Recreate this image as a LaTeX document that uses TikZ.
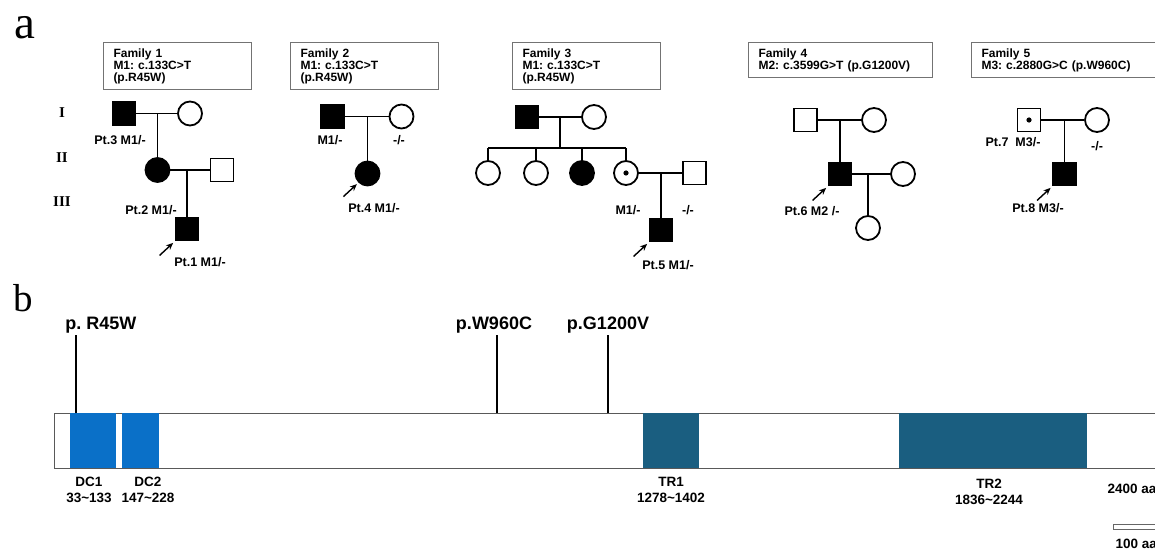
\documentclass[tikz,border=0pt]{standalone}
\usepackage{fontspec}
\setmainfont{Liberation Sans}
\newfontfamily\romfont{Liberation Serif}
\usetikzlibrary{calc,arrows.meta}
\definecolor{dcblue}{RGB}{10,112,200}
\definecolor{trteal}{RGB}{26,94,128}
\frenchspacing
\tikzset{
  ind/.style={draw,line width=1.8pt,fill=white,inner sep=0pt,minimum size=23pt},
  male/.style={ind,rectangle},
  female/.style={ind,circle,minimum size=24pt},
  aff/.style={fill=black},
  tie/.style={line width=1.7pt},
  proband/.style={line width=1.4pt,-{Stealth[length=7pt,width=6pt]}},
  famtag/.style={draw=black!55,line width=1pt,anchor=north west,align=left,
    inner xsep=10pt,inner ysep=0pt,font=\bfseries\fontsize{12}{12}\selectfont},
  plab/.style={font=\bfseries\fontsize{12.5}{13}\selectfont},
  gen/.style={font=\romfont\bfseries\fontsize{15}{15}\selectfont},
  mut/.style={anchor=base,font=\bfseries\fontsize{18}{18}\selectfont},
  dom/.style={inner sep=0pt,minimum height=55pt},
  dlab/.style={align=center,font=\bfseries\fontsize{13.5}{16}\selectfont}
}
\newcommand{\pointat}[1]{\draw[proband] ([shift={(-15,14)}]#1.south west) -- ([shift={(-1.5,1.5)}]#1.south west);}

\begin{document}
\begin{tikzpicture}[x=1pt,y=-1pt]
\useasboundingbox (0,0) rectangle (1155,553);
\node[font=\romfont\fontsize{47}{47}\selectfont] (pa) at (25,28) {a};
\node[font=\romfont\fontsize{39}{39}\selectfont] (pb) at (23.5,298) {b};
\node[gen] (g1) at (62,113) {I};
\node[gen] (g2) at (62,158) {II};
\node[gen] (g3) at (62,202) {III};

\node[famtag,text width=128pt,minimum height=47pt] (t1) at (103,42) {Family 1\\M1: c.133C>T\\(p.R45W)};
\node[male,aff] (f1a) at (124,113.5) {};
\node[female] (f1b) at (190,113.5) {};
\node[female,aff] (f1c) at (157.5,170) {};
\node[male] (f1d) at (222,170) {};
\node[male,aff] (f1e) at (187,229) {};
\draw[tie] (f1a) -- (f1b);
\coordinate (m1) at ($(f1a.east)!.5!(f1b.west)$);
\draw[tie] (f1c.north) |- (m1);
\draw[tie] (f1c) -- (f1d);
\coordinate (m2) at ($(f1c.east)!.5!(f1d.west)$);
\draw[tie] (f1e.north) |- (m2);
\pointat{f1e}
\node[plab] (l1a) at (120,140) {Pt.3 M1/-};
\node[plab] (l1c) at (151,210) {Pt.2 M1/-};
\node[plab] (l1e) at (200,262) {Pt.1 M1/-};

\node[famtag,text width=128pt,minimum height=47pt] (t2) at (290,42) {Family 2\\M1: c.133C>T\\(p.R45W)};
\node[male,aff] (f2a) at (332.5,116.5) {};
\node[female] (f2b) at (401.5,116.5) {};
\node[female,aff] (f2c) at (367.5,173.5) {};
\draw[tie] (f2a) -- (f2b);
\coordinate (m3) at ($(f2a.east)!.5!(f2b.west)$);
\draw[tie] (f2c.north) |- (m3);
\pointat{f2c}
\node[plab] (l2a) at (330,140) {M1/-};
\node[plab] (l2b) at (399,140) {-/-};
\node[plab] (l2c) at (374,208) {Pt.4 M1/-};

\node[famtag,text width=128pt,minimum height=47pt] (t3) at (512,42) {Family 3\\M1: c.133C>T\\(p.R45W)};
\node[male,aff] (f3a) at (527,117) {};
\node[female] (f3b) at (594,117) {};
\node[female] (f3c) at (488,173) {};
\node[female] (f3d) at (536,173) {};
\node[female,aff] (f3e) at (582,173) {};
\node[female] (f3f) at (626,173) {};
\node[male] (f3g) at (694.5,173) {};
\node[male,aff] (f3h) at (661,230) {};
\fill (f3f.center) circle (2.6pt);
\draw[tie] (f3a) -- (f3b);
\coordinate (m4) at ($(f3a.east)!.5!(f3b.west)$);
\coordinate (s3) at (m4 |- 0,148);
\draw[tie] (m4) -- (s3);
\draw[tie] (f3c.north |- s3) -- (f3f.north |- s3);
\foreach \k in {c,d,e,f} \draw[tie] (f3\k.north) -- (f3\k.north |- s3);
\draw[tie] (f3f) -- (f3g);
\coordinate (m5) at ($(f3f.east)!.5!(f3g.west)$);
\draw[tie] (f3h.north) |- (m5);
\pointat{f3h}
\node[plab] (l3f) at (628,210) {M1/-};
\node[plab] (l3g) at (688,210) {-/-};
\node[plab] (l3h) at (668,265) {Pt.5 M1/-};

\node[famtag,text width=164pt,minimum height=35pt] (t4) at (748,42) {Family 4\\M2: c.3599G>T (p.G1200V)};
\node[male] (f4a) at (805.5,120) {};
\node[female] (f4b) at (874,120) {};
\node[male,aff] (f4c) at (840,174) {};
\node[female] (f4d) at (903,174) {};
\node[female] (f4e) at (868,228) {};
\draw[tie] (f4a) -- (f4b);
\coordinate (m6) at ($(f4a.east)!.5!(f4b.west)$);
\draw[tie] (f4c.north) |- (m6);
\draw[tie] (f4c) -- (f4d);
\coordinate (m7) at ($(f4c.east)!.5!(f4d.west)$);
\draw[tie] (f4e.north) |- (m7);
\pointat{f4c}
\node[plab] (l4c) at (812,211) {Pt.6 M2 /-};

\node[famtag,text width=169pt,minimum height=35pt] (t5) at (971,42) {Family 5\\M3: c.2880G>C (p.W960C)};
\node[male] (f5a) at (1029,120) {};
\node[female] (f5b) at (1097,120) {};
\node[male,aff] (f5c) at (1064.5,174) {};
\fill (f5a.center) circle (2.6pt);
\draw[tie] (f5a) -- (f5b);
\coordinate (m8) at ($(f5a.east)!.5!(f5b.west)$);
\draw[tie] (f5c.north) |- (m8);
\pointat{f5c}
\node[plab] (l5a) at (1013,142) {Pt.7\ \ M3/-};
\node[plab] (l5b) at (1097,146) {-/-};
\node[plab] (l5c) at (1038,208) {Pt.8 M3/-};

\node[draw=black!65,line width=1.4pt,anchor=north west,inner sep=0pt,minimum width=1106pt,minimum height=55pt] (prot) at (54,413) {};
\node[dom,fill=dcblue,minimum width=46pt] (dc1) at (93,440.5) {};
\node[dom,fill=dcblue,minimum width=37pt] (dc2) at (140.5,440.5) {};
\node[dom,fill=trteal,minimum width=56pt] (tr1) at (671,440.5) {};
\node[dom,fill=trteal,minimum width=188pt] (tr2) at (993,440.5) {};
\node[dlab] (ldc1) at (89,490) {DC1\\33\textasciitilde133};
\node[dlab] (ldc2) at (148,490) {DC2\\147\textasciitilde228};
\node[dlab] (ltr1) at (671,490) {TR1\\1278\textasciitilde1402};
\node[dlab] (ltr2) at (989,492) {TR2\\1836\textasciitilde2244};
\node[dlab,anchor=west] (lend) at (1104,489) {2400 aa};

\coordinate (r45) at (76,413);
\coordinate (w960) at (497,413);
\coordinate (g1200) at (608,413);
\draw[tie] (r45) -- ++(0,-78);
\draw[tie] (w960) -- ++(0,-78);
\draw[tie] (g1200) -- ++(0,-78);
\node[mut] (lr45) at (101,329) {p. R45W};
\node[mut] (lw960) at (494,329) {p.W960C};
\node[mut] (lg1200) at (608,329) {p.G1200V};

\draw[draw=black!60,line width=1pt] (1113,524) rectangle (1160,529);
\node[dlab,anchor=west] (lscale) at (1112,544) {100 aa};
\end{tikzpicture}
\end{document}
